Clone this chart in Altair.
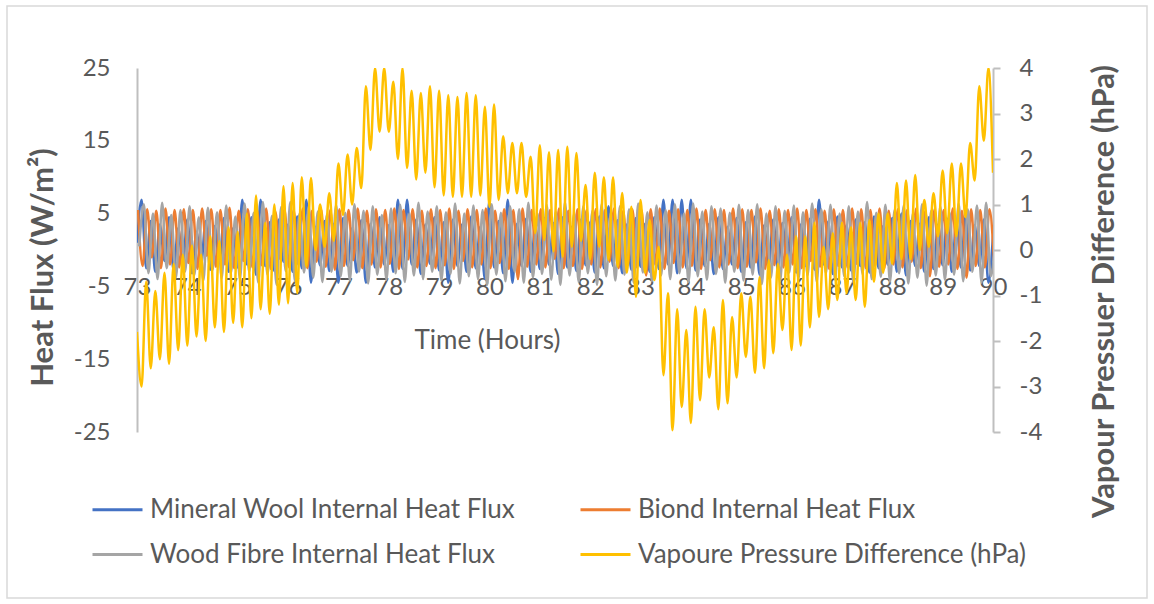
import altair as alt
import pandas as pd

# ---------------- data ----------------
START_HOUR = 73
END_HOUR = 90

# Vapour pressure difference (hPa), one value every ~0.09 h (11 per hour)
vp_values = [
    -1.8, -3.0, -0.7, -2.6, -0.9, -2.4, -0.5, -2.5, -0.3, -2.2, -0.1,      # 73
    -2.1, 0.1, -1.9, -0.1, -2.0, 0.3, -1.7, 0.2, -1.8, 0.5, -1.6,          # 74
    0.4, -1.7, 0.8, -1.5, 1.2, -1.3, 0.6, -1.4, 1.0, -1.2, 1.4,            # 75
    -1.17, 1.47, -0.95, 1.6, -0.37, 1.58, 0.0, 1.0, 0.07, 1.25, 0.2,       # 76
    1.9, 0.77, 2.1, 1.0, 2.24, 1.36, 3.6, 2.2, 4.0, 2.6, 4.0,              # 77
    2.6, 3.7, 2.0, 4.0, 1.8, 3.5, 1.55, 3.45, 1.7, 3.6, 1.38,              # 78
    3.5, 1.2, 3.4, 1.17, 3.36, 1.17, 3.45, 1.17, 3.4, 1.2, 3.15,           # 79
    0.95, 3.2, 1.1, 2.5, 1.25, 2.35, 1.25, 2.35, 1.17, 2.05, 0.37,         # 80
    2.3, 0.22, 2.15, -0.03, 2.2, -0.15, 2.27, 0.07, 2.13, 0.2, 1.43,       # 81
    -0.2, 1.7, 0.07, 1.6, -0.22, 1.6, -0.37, 1.25, -0.5, 0.95, -1.03,      # 82
    1.1, -0.5, 0.66, -0.66, 0.07, -2.75, -0.95, -3.96, -1.3, -3.45, -1.76, # 83
    -3.8, -1.25, -3.3, -1.3, -2.8, -1.7, -3.5, -1.1, -3.37, -1.47, -2.8,   # 84
    -0.95, -2.35, -1.03, -2.7, -0.6, -2.6, -0.22, -2.27, -0.3, -1.76, -0.1,# 85
    -2.2, 0.3, -2.1, 0.3, -1.7, 0.6, -1.47, 0.07, -1.3, 0.37, -1.1,        # 86
    0.6, -0.95, 0.5, -1.1, 0.6, -1.25, 0.66, -0.7, 0.8, -0.5, 0.8,         # 87
    -0.3, 1.47, -0.2, 1.53, -0.2, 1.65, 0.0, 1.1, 0.07, 1.25, 0.3,         # 88
    1.75, 0.37, 1.9, 0.3, 1.9, 0.72, 2.35, 1.53, 3.6, 2.4, 4.0, 1.7,       # 89-90
]

# Internal heat fluxes (W/m2)
mineral_wool = [
    1.0, 6.9, -2.5, 4.0, -3.0, 3.5, -1.5, 4.5, -2.8, 3.0, -2.0,
    4.2, -3.2, 2.5, -2.0, 4.0, -2.7, 3.3, -1.8, 4.4, -3.0, 3.0,
    -2.4, 6.9, -2.0, 4.5, -3.4, 6.9, -2.2, 3.8, -2.9, 4.2, -1.6,
    3.5, -3.0, 4.6, -2.5, 6.9, -4.5, 3.2, -2.1, 4.0, -2.9, 3.6,
    -4.5, 4.4, -2.2, 3.0, -3.1, 4.1, -4.5, 3.6, -2.4, 4.5, -2.0,
    3.4, -3.0, 6.9, -2.6, 6.9, -2.0, 4.2, -3.3, 3.5, -1.9, 4.5,
    -2.8, 3.8, -4.5, 4.2, -2.2, 3.5, -3.0, 4.6, -2.5, 3.2, -4.0,
    6.9, -2.4, 4.0, -3.2, 6.9, -4.5, 3.6, -2.2, 4.3, -3.0, 3.4,
    -2.6, 4.4, -2.0, 3.7, -3.3, 4.5, -2.4, 3.2, -2.9, 4.2, -2.1,
    3.8, -3.1, 4.6, -2.5, 6.0, -2.2, 4.1, -3.2, 3.5, -2.7, 4.4,
    -2.3, 3.6, -3.0, 4.5, -2.6, 6.9, -2.0, 6.9, -3.2, 6.9, -2.5,
    6.9, -2.8, 4.2, -2.2, 3.6, -3.3, 4.5, -2.6, 3.2, -2.0, 4.4,
    -3.0, 3.8, -2.4, 4.6, -3.4, 3.4, -2.1, 4.2, -2.8, 3.7, -2.3,
    4.5, -3.1, 3.5, -2.2, 4.3, -2.7, 6.9, -2.0, 3.9, -3.3, 4.6,
    -2.4, 3.4, -2.8, 4.2, -2.2, 3.8, -3.1, 4.6, -2.5, 3.3, -2.0,
    4.4, -3.0, 5.0, -3.5, 4.0, -2.2, 3.6, -3.0, 4.5, -2.6, 3.5,
    -2.1, 4.3, -3.0, 3.8, -2.4, 4.6, -2.8, 3.4, -2.2, 4.2, -4.5, 2.0,
]

biond = [
    5.5, -2.2, 5.6, -1.0, 5.4, -2.5, 5.7, -2.0, 5.5, -2.4, 5.6,
    -1.8, 5.5, -2.6, 5.7, -0.8, 5.6, -2.3, 5.5, -2.0, 5.8, -2.5,
    5.4, -1.5, 5.6, -2.4, 5.5, -2.1, 5.7, -2.6, 5.3, -1.2, 5.6,
    -2.4, 5.5, -2.0, 5.7, -2.5, 5.4, -1.6, 5.6, -2.3, 5.5, -2.7,
    5.6, -2.2, 5.5, -1.4, 5.7, -2.5, 5.4, -2.0, 5.6, -2.4, 5.5,
    -1.9, 5.7, -2.6, 5.5, -1.3, 5.6, -2.4, 5.4, -2.2, 5.6, -2.5,
    5.5, -2.1, 5.7, -2.6, 5.4, -1.5, 5.6, -2.4, 5.5, -2.0, 5.7,
    -2.5, 5.4, -1.8, 5.6, -2.6, 5.5, -4.0, 5.7, -2.3, 5.5, -2.0,
    5.6, -2.4, 5.5, -1.2, 5.7, -2.5, 5.4, -2.2, 5.6, -2.6, 5.5,
    -2.0, 5.6, -2.4, 5.5, -1.6, 5.7, -2.5, 5.4, -2.1, 5.6, -2.4,
    5.5, -3.5, 5.6, -2.0, 5.7, -2.6, 5.4, -1.8, 5.6, -2.4, 5.5,
    -2.2, 5.7, -2.6, 5.5, -1.4, 5.6, -2.4, 5.5, -2.0, 5.7, -2.5,
    5.6, -2.3, 5.5, -1.7, 5.7, -2.6, 5.4, -2.1, 5.6, -2.4, 5.5,
    -2.0, 5.7, -2.5, 5.5, -1.5, 5.6, -2.3, 5.4, -2.6, 5.6, -2.2,
    5.5, -2.4, 5.7, -1.9, 5.6, -2.5, 5.5, -2.2, 5.7, -2.6, 5.4,
    -2.0, 5.6, -2.4, 5.5, -1.6, 5.7, -2.5, 5.4, -3.6, 5.6, -2.3,
    5.5, -2.0, 5.7, -2.6, 5.4, -3.8, 5.6, -2.2, 5.5, -2.4, 5.6, -1.5,
]

wood_fibre = [
    0.5, 6.3, -3.2, 5.0, -4.0, 6.5, -2.5, 4.8, -3.8, 5.5, -3.0,
    6.0, -3.5, 4.5, -4.2, 5.8, -2.8, 5.2, -3.9, 6.1, -3.2, 4.6,
    -4.0, 6.4, -3.0, 5.1, -4.5, 6.6, -3.4, 4.7, -4.8, 5.9, -2.9,
    6.6, -4.3, 5.0, -3.1, 6.0, -3.8, 5.3, -4.4, 4.9, -3.0, 6.2,
    -3.6, 5.1, -4.2, 6.3, -3.0, 5.4, -4.6, 6.0, -3.4, 4.8, -4.1,
    5.7, -3.2, 6.2, -4.4, 5.0, -3.5, 6.5, -4.0, 5.3, -3.0, 6.0,
    -4.2, 5.2, -3.3, 6.4, -4.6, 5.0, -3.6, 6.1, -4.0, 5.5, -4.8,
    6.3, -3.4, 5.1, -4.3, 6.0, -3.0, 5.6, -4.5, 6.5, -3.8, 5.0,
    -3.3, 6.2, -4.1, 5.3, -4.8, 6.6, -3.5, 5.0, -4.4, 6.0, -3.2,
    5.4, -4.8, 6.3, -3.6, 5.1, -4.2, 6.0, -3.4, 5.6, -4.5, 6.4,
    -3.1, 5.2, -4.3, 6.1, -3.5, 5.5, -4.0, 6.3, -3.2, 5.0, -4.4,
    6.4, -3.6, 5.3, -4.1, 6.0, -3.3, 5.7, -4.5, 5.1, -3.0, 6.2,
    -4.2, 5.5, -3.4, 6.3, -4.7, 5.0, -3.8, 6.0, -4.3, 5.4, -3.1,
    6.1, -4.0, 5.2, -3.5, 6.4, -4.4, 5.6, -3.2, 6.2, -4.1, 5.0,
    -3.6, 6.0, -4.5, 5.3, -3.3, 6.6, -4.0, 5.1, -3.7, 6.2, -4.4,
    5.5, -3.2, 6.1, -4.6, 5.0, -3.8, 6.3, -4.9, 5.4, -3.5, 6.0,
    -4.1, 5.2, -3.4, 6.4, -4.3, 5.6, -3.0, 6.1, -4.5, 6.5, -3.6, 1.0,
]

series_names = [
    "Mineral Wool Internal Heat Flux",
    "Biond Internal Heat Flux",
    "Wood Fibre Internal Heat Flux",
    "Vapoure Pressure Difference (hPa)",
]
series_colors = ["#4472C4", "#ED7D31", "#A5A5A5", "#FFC000"]
series_phase = [0.0, 0.02, 0.045, 0.0]  # small time offsets of each logger (h)

left_ticks = [-25, -15, -5, 5, 15, 25]
right_ticks = [-4, -3, -2, -1, 0, 1, 2, 3, 4]
x_ticks = list(range(START_HOUR, END_HOUR + 1))


def frame(values, name, phase):
    n = len(values)
    step = (END_HOUR - START_HOUR) / (n - 1)
    return pd.DataFrame({
        "t": [START_HOUR + i * step + phase for i in range(n)],
        "v": values,
        "series": name,
    })


df_mw = frame(mineral_wool, series_names[0], series_phase[0])
df_bi = frame(biond, series_names[1], series_phase[1])
df_wf = frame(wood_fibre, series_names[2], series_phase[2])
df_vp = frame(vp_values, series_names[3], series_phase[3])

# ---------------- styling ----------------
FONT = "Lato"
TXT = "#595959"
AXC = "#BFBFBF"
PLOT_W, PLOT_H = 856, 364

color_enc = alt.Color(
    "series:N",
    scale=alt.Scale(domain=series_names, range=series_colors),
    legend=alt.Legend(
        title=None, orient="none", legendX=-46, legendY=415,
        direction="horizontal", columns=2, columnPadding=58, rowPadding=5, padding=0,
        symbolType="stroke", symbolSize=2500, symbolStrokeWidth=3,
        labelOffset=6, labelFont=FONT, labelFontSize=26, labelColor=TXT,
        labelLimit=0,
    ),
)

x_axis = alt.Axis(
    values=x_ticks, title="Time (Hours)", labelFlush=False, labelOverlap=False,
    ticks=False, tickSize=0, domain=False, grid=False, offset=-(PLOT_H / 2),
    labelPadding=25, labelFont=FONT, labelFontSize=24, labelColor=TXT,
    titleFont=FONT, titleFontSize=26, titleFontWeight="normal", titleColor=TXT,
    titleX=350, titleY=90, titleAlign="center", titleBaseline="middle",
)
x_enc = alt.X("t:Q", scale=alt.Scale(domain=[START_HOUR, END_HOUR], nice=False, zero=False),
              axis=x_axis)

left_axis = alt.Axis(
    values=left_ticks, orient="left", title="Heat Flux (W/m²)", grid=False,
    ticks=False, tickSize=0, domainColor=AXC, domainWidth=2,
    labelPadding=27, labelFont=FONT, labelFontSize=24, labelColor=TXT,
    labelExpr="'' + datum.value",
    titleFont=FONT, titleFontSize=31, titleFontWeight="bold", titleColor=TXT,
    titleAngle=270, titleX=-94, titleY=199, titleAlign="center", titleBaseline="middle",
)
right_axis = alt.Axis(
    values=right_ticks, orient="right", title="Vapour Pressuer Difference (hPa)", grid=False,
    ticks=True, tickSize=7, tickColor=AXC, tickWidth=2, domainColor=AXC, domainWidth=2,
    labelPadding=19, labelFont=FONT, labelFontSize=24, labelColor=TXT,
    labelExpr="'' + datum.value",
    titleFont=FONT, titleFontSize=31, titleFontWeight="bold", titleColor=TXT,
    titleAngle=270, titleX=111, titleY=223, titleAlign="center", titleBaseline="middle",
)

y_left = alt.Y("v:Q", scale=alt.Scale(domain=[-25, 25], nice=False, zero=False), axis=left_axis)
y_right = alt.Y("v:Q", scale=alt.Scale(domain=[-4, 4], nice=False, zero=False), axis=right_axis)


def flux_line(df):
    return alt.Chart(df).mark_line(strokeWidth=2.5, interpolate="monotone", clip=True).encode(
        x=x_enc, y=y_left, color=color_enc
    )


flux = alt.layer(flux_line(df_mw), flux_line(df_bi), flux_line(df_wf))

vp = alt.Chart(df_vp).mark_line(strokeWidth=2.5, interpolate="monotone", clip=True).encode(
    x=x_enc, y=y_right, color=color_enc
)

frame_box = alt.Chart(alt.Data(values=[{}])).mark_rect(
    fill=None, stroke="#D9D9D9", strokeWidth=1.5
).encode(
    x=alt.value(-130), x2=alt.value(1010), y=alt.value(-62), y2=alt.value(530)
)

chart = alt.layer(flux, vp, frame_box).resolve_scale(y="independent").properties(
    width=PLOT_W, height=PLOT_H,
    autosize=alt.AutoSizeParams(type="none"),
    padding={"left": 137, "top": 68, "right": 1154 - 137 - PLOT_W, "bottom": 604 - 68 - PLOT_H},
    background="white",
).configure_view(strokeWidth=0)

chart.save("out.html", embed_options={"renderer": "svg", "actions": False})
